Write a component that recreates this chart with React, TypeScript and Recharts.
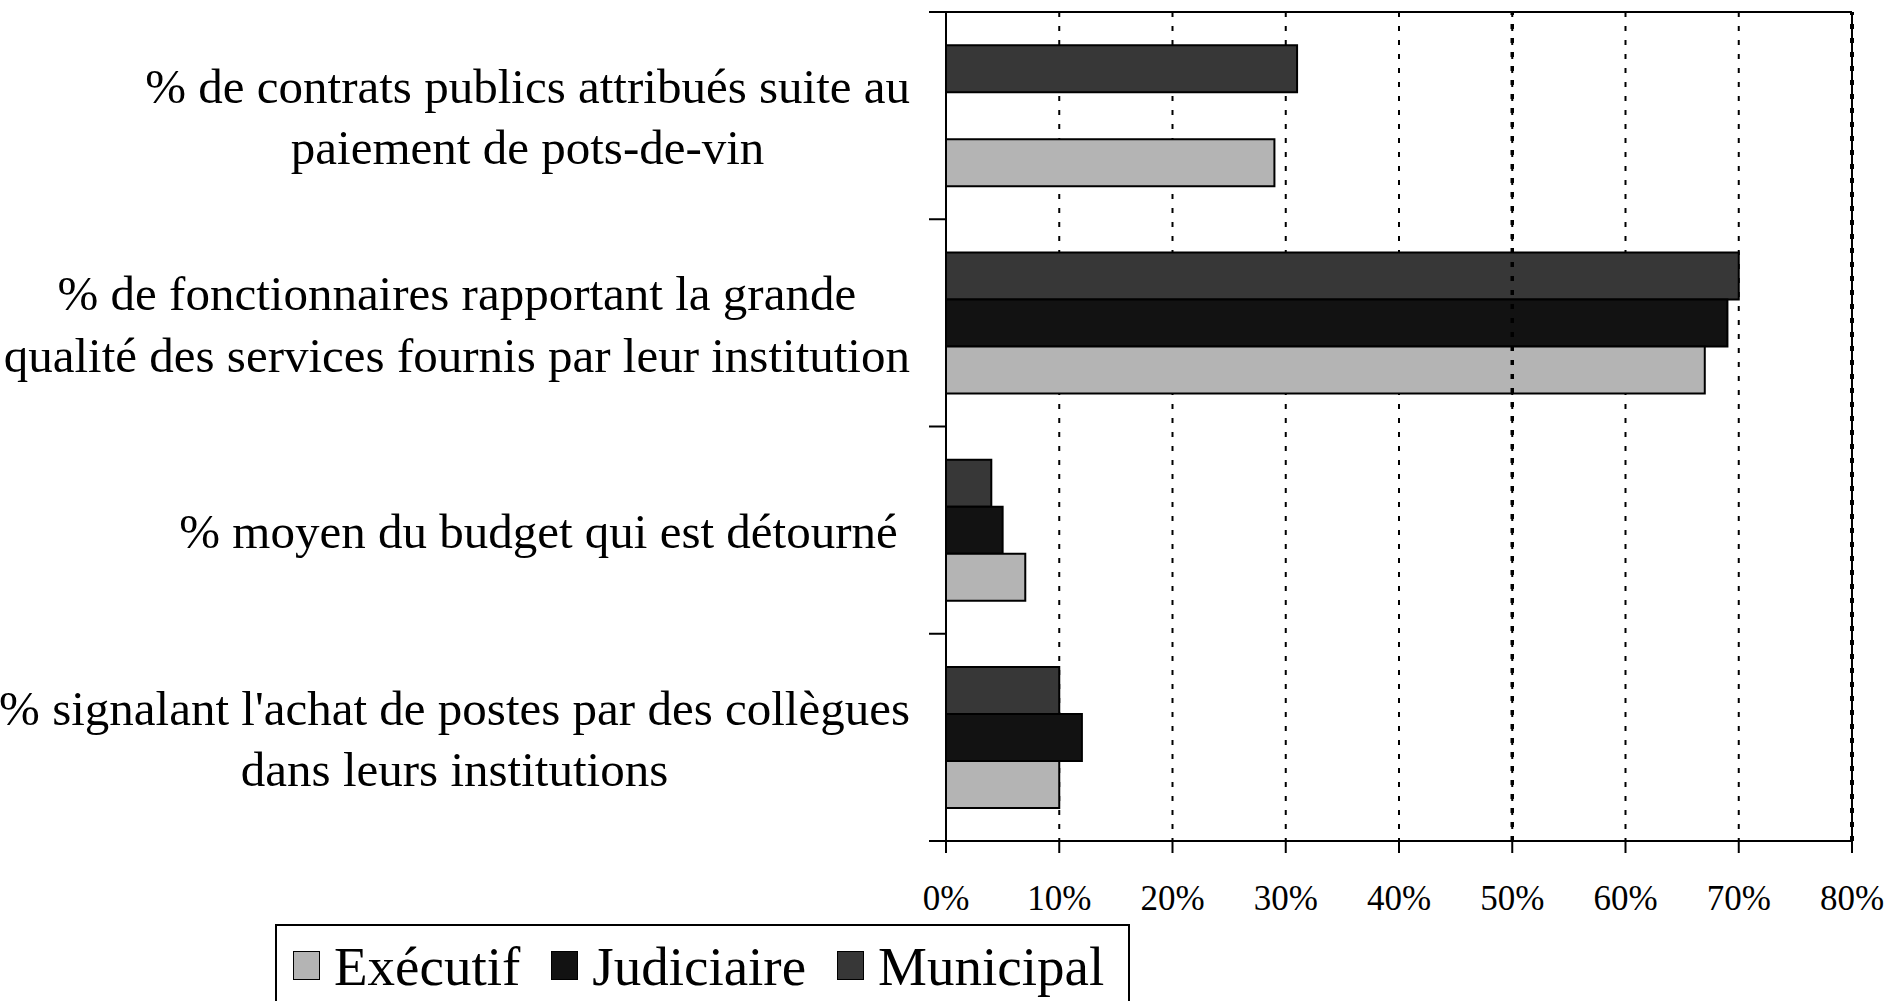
import { BarChart, Bar, XAxis, YAxis, CartesianGrid, ReferenceLine } from "recharts"

const categories = [
  "% de contrats publics attribués suite au\npaiement de pots-de-vin",
  "% de fonctionnaires rapportant la grande\nqualité des services fournis par leur institution",
  "% moyen du budget qui est détourné ",
  "% signalant l'achat de postes par des collègues\ndans leurs institutions",
]
const executif = [29, 67, 7, 10]
const judiciaire = [null, 69, 5, 12]
const municipal = [31, 70, 4, 10]
const xTicks = [0, 10, 20, 30, 40, 50, 60, 70, 80]

const series = [
  { key: "executif", name: "Exécutif", color: "#b4b4b4" },
  { key: "judiciaire", name: "Judiciaire", color: "#121212" },
  { key: "municipal", name: "Municipal", color: "#373737" },
]

const data = categories.map((name, i) => ({
  name,
  executif: executif[i],
  judiciaire: judiciaire[i],
  municipal: municipal[i],
}))

const FONT = '"Liberation Serif", "Times New Roman", serif'
const W = 1891
const H = 1001
const TOP = 12
const AXIS_Y = 841
const PLOT_LEFT = 946
const PLOT_RIGHT = 1852
const BAND = (AXIS_Y - TOP) / categories.length
const LABEL_SIZE = 49
const LINE_H = 61.5

let ctx: CanvasRenderingContext2D | null = null
const measure = (s: string) => {
  if (!ctx) {
    ctx = document.createElement("canvas").getContext("2d")
    if (ctx) ctx.font = `${LABEL_SIZE}px "Liberation Serif"`
  }
  return ctx ? ctx.measureText(s).width : s.length * LABEL_SIZE * 0.45
}

// category labels: each block right-aligned, lines centred inside it; ticks sit on band edges
const CategoryTick = (props: any) => {
  const { x, y, payload, index } = props
  const lines: string[] = String(payload.value).split("\n")
  const blockW = Math.max(...lines.map(measure))
  const cx = x - 36 - blockW / 2
  const half = BAND / 2
  return (
    <g>
      {/* first tick runs on as the top border of the plot */}
      <line
        x1={x - 17}
        x2={index === 0 ? PLOT_RIGHT : x}
        y1={y - half}
        y2={y - half}
        stroke="#000"
        strokeWidth={2}
      />
      {index === categories.length - 1 && (
        <line x1={x - 17} x2={x} y1={y + half} y2={y + half} stroke="#000" strokeWidth={2} />
      )}
      <text
        textAnchor="middle"
        fontFamily={FONT}
        fontSize={LABEL_SIZE}
        fill="#000"
        style={{ whiteSpace: "pre" }}
      >
        {lines.map((l, i) => (
          <tspan key={i} x={cx} y={y + (i - (lines.length - 1) / 2) * LINE_H + 18}>
            {l}
          </tspan>
        ))}
      </text>
    </g>
  )
}

const PercentTick = (props: any) => {
  const { x, y, payload } = props
  return (
    <text x={x} y={y + 57} textAnchor="middle" fontFamily={FONT} fontSize={35} fill="#000">
      {`${payload.value}%`}
    </text>
  )
}

function Legend() {
  return (
    <div
      style={{
        position: "absolute",
        left: 275,
        top: 924,
        width: 855,
        height: H - 924,
        boxSizing: "border-box",
        borderTop: "2px solid #000",
        borderLeft: "2px solid #000",
        borderRight: "2px solid #000",
        display: "flex",
        alignItems: "flex-start",
        paddingLeft: 16,
        paddingTop: 13,
        fontFamily: FONT,
        fontSize: 55,
        lineHeight: "55px",
        color: "#000",
      }}
    >
      {series.map((s) => (
        <div key={s.key} style={{ display: "flex", alignItems: "flex-start", marginRight: 31 }}>
          <span
            style={{
              width: 27,
              height: 29,
              marginTop: 12,
              marginRight: 14,
              boxSizing: "border-box",
              border: "1.5px solid #000",
              background: s.color,
              flexShrink: 0,
            }}
          />
          <span>{s.name}</span>
        </div>
      ))}
    </div>
  )
}

export default function App() {
  return (
    <div
      style={{
        position: "absolute",
        left: 0,
        top: 0,
        width: W,
        height: H,
        overflow: "hidden",
        background: "#fff",
      }}
    >
      <BarChart
        width={W}
        height={H}
        data={data}
        layout="vertical"
        margin={{ top: TOP, right: W - PLOT_RIGHT, bottom: 0, left: 0 }}
        barCategoryGap="16%"
        barGap={0}
      >
        <CartesianGrid
          horizontal={false}
          stroke="#000"
          strokeWidth={2}
          strokeDasharray="5 9"
        />
        <XAxis
          type="number"
          domain={[0, 80]}
          ticks={xTicks}
          interval={0}
          height={H - AXIS_Y}
          tickSize={12}
          tickMargin={0}
          tick={<PercentTick />}
          axisLine={{ stroke: "#000", strokeWidth: 2 }}
          tickLine={{ stroke: "#000", strokeWidth: 2 }}
        />
        <YAxis
          type="category"
          dataKey="name"
          width={PLOT_LEFT}
          interval={0}
          tickSize={0}
          tickMargin={0}
          tickLine={false}
          tick={<CategoryTick />}
          axisLine={{ stroke: "#000", strokeWidth: 2 }}
        />
        <ReferenceLine x={80} stroke="#000" strokeWidth={2} />
        <ReferenceLine x={80} stroke="#000" strokeWidth={4} strokeDasharray="5 9" />
        <ReferenceLine x={50} stroke="#000" strokeWidth={3.5} strokeDasharray="5 9" />
        <Bar dataKey="municipal" name="Municipal" fill="#373737" stroke="#000" strokeWidth={2} isAnimationActive={false} />
        <Bar dataKey="judiciaire" name="Judiciaire" fill="#121212" stroke="#000" strokeWidth={2} isAnimationActive={false} />
        <Bar dataKey="executif" name="Exécutif" fill="#b4b4b4" stroke="#000" strokeWidth={2} isAnimationActive={false} />
      </BarChart>
      <Legend />
    </div>
  )
}
